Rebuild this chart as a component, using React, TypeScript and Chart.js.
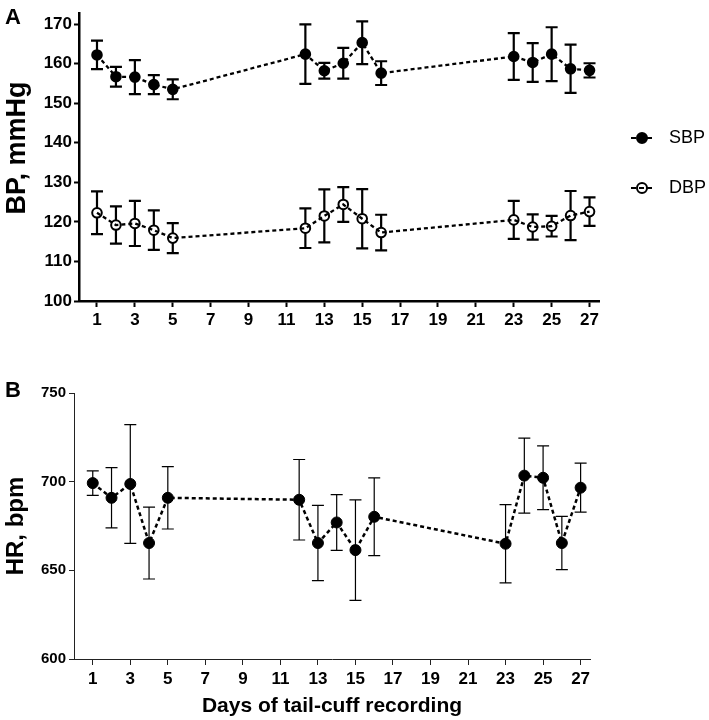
import React, { useEffect, useRef } from "react";
import { Chart, registerables } from "chart.js";

Chart.register(...registerables);

// ---------- data ----------
const days = [1, 2, 3, 4, 5, 12, 13, 14, 15, 16, 23, 24, 25, 26, 27];
const sbpMean = [162.2, 156.7, 156.6, 154.7, 153.5, 162.4, 158.2, 160.1, 165.3, 157.6, 161.8, 160.3, 162.4, 158.7, 158.3];
const sbpErr = [3.6, 2.5, 4.3, 2.4, 2.5, 7.5, 2.0, 3.9, 5.4, 3.0, 5.9, 4.9, 6.8, 6.1, 1.8];
const dbpMean = [122.3, 119.2, 119.6, 117.9, 115.9, 118.4, 121.5, 124.4, 120.8, 117.3, 120.5, 118.7, 118.9, 121.6, 122.6];
const dbpErr = [5.4, 4.7, 5.7, 5.0, 3.8, 5.0, 6.7, 4.4, 7.5, 4.5, 4.8, 3.2, 2.6, 6.2, 3.6];
const hrMean = [699.2, 690.9, 698.7, 665.4, 690.9, 689.8, 665.4, 677.0, 661.4, 680.2, 665.0, 703.4, 702.2, 665.4, 696.6];
const hrErr = [6.9, 17, 33.5, 20.3, 17.6, 22.7, 21.2, 15.7, 28.3, 21.9, 22.1, 21.1, 18, 15, 13.8];
const xTicks = [1, 3, 5, 7, 9, 11, 13, 15, 17, 19, 21, 23, 25, 27];
const bpTicks = [100, 110, 120, 130, 140, 150, 160, 170];
const hrTicks = [600, 650, 700, 750];
const bpTitle = "BP, mmHg";
const hrTitle = "HR, bpm";
const xTitle = "Days of tail-cuff recording";

const FONT = '"Liberation Sans", Arial, Helvetica, sans-serif';
Chart.defaults.font.family = FONT;

const toPoints = (ys: number[]) => days.map((d, i) => ({ x: d, y: ys[i] }));

const errorBarPlugin = {
  id: "errorBars",
  beforeDatasetsDraw(chart: any) {
    const ctx = chart.ctx;
    const xs = chart.scales.x;
    const ys = chart.scales.y;
    chart.data.datasets.forEach((ds: any) => {
      if (!ds.errors) return;
      ctx.save();
      ctx.strokeStyle = "#000";
      ctx.lineWidth = ds.errorWidth;
      const cap = ds.capHalf;
      ds.data.forEach((p: any, i: number) => {
        const x = xs.getPixelForValue(p.x);
        const y1 = ys.getPixelForValue(p.y + ds.errors[i]);
        const y2 = ys.getPixelForValue(p.y - ds.errors[i]);
        ctx.beginPath();
        ctx.moveTo(x, y1);
        ctx.lineTo(x, y2);
        ctx.moveTo(x - cap, y1);
        ctx.lineTo(x + cap, y1);
        ctx.moveTo(x - cap, y2);
        ctx.lineTo(x + cap, y2);
        ctx.stroke();
      });
      ctx.restore();
    });
  },
};

const legendPlugin = {
  id: "bpLegend",
  afterDraw(chart: any) {
    const ctx = chart.ctx;
    const items = chart.data.datasets.filter((d: any) => d.inLegend);
    items.forEach((ds: any, i: number) => {
      const y = 138 + i * 50;
      const cx = 642;
      ctx.save();
      ctx.beginPath();
      ctx.arc(cx, y, 5, 0, Math.PI * 2);
      ctx.fillStyle = ds.pointBackgroundColor;
      ctx.fill();
      ctx.lineWidth = 2;
      ctx.strokeStyle = "#000";
      ctx.stroke();
      ctx.setLineDash([5, 3]);
      ctx.lineWidth = 2;
      ctx.beginPath();
      ctx.moveTo(631, y);
      ctx.lineTo(653, y);
      ctx.stroke();
      ctx.setLineDash([]);
      ctx.font = `18px ${FONT}`;
      ctx.textBaseline = "middle";
      ctx.textAlign = "left";
      ctx.fillStyle = "#000";
      ctx.fillText(ds.label, 669, y);
      ctx.restore();
    });
  },
};

// draws the rotated y-axis title of the BP panel
const bpTitlePlugin = {
  id: "bpTitle",
  afterDraw(chart: any) {
    const ctx = chart.ctx;
    ctx.save();
    ctx.translate(18, 148);
    ctx.rotate(-Math.PI / 2);
    ctx.font = `bold 27px ${FONT}`;
    ctx.textAlign = "center";
    ctx.textBaseline = "middle";
    ctx.fillStyle = "#000";
    ctx.fillText(bpTitle, 0, 0);
    ctx.restore();
  },
};

function BPChart() {
  const ref = useRef<HTMLCanvasElement | null>(null);
  useEffect(() => {
    if (!ref.current) return;
    const dash = [4, 3];
    const chart = new Chart(ref.current, {
      type: "line",
      data: {
        datasets: [
          {
            label: "SBP",
            data: toPoints(sbpMean),
            showLine: false,
            pointRadius: 4.8,
            pointBorderWidth: 2,
            pointBackgroundColor: "#000",
            pointBorderColor: "#000",
            errors: sbpErr,
            errorWidth: 2.2,
            capHalf: 6,
            inLegend: true,
            order: 2,
          } as any,
          {
            label: "SBP line",
            data: toPoints(sbpMean),
            pointRadius: 0,
            borderColor: "#000",
            borderWidth: 2.3,
            borderDash: dash,
            fill: false,
            order: 1,
          },
          {
            label: "DBP",
            data: toPoints(dbpMean),
            showLine: false,
            pointRadius: 4.8,
            pointBorderWidth: 2,
            pointBackgroundColor: "#fff",
            pointBorderColor: "#000",
            errors: dbpErr,
            errorWidth: 2.2,
            capHalf: 6,
            inLegend: true,
            order: 2,
          } as any,
          {
            label: "DBP line",
            data: toPoints(dbpMean),
            pointRadius: 0,
            borderColor: "#000",
            borderWidth: 2.3,
            borderDash: dash,
            fill: false,
            order: 1,
          },
        ],
      },
      options: {
        responsive: false,
        animation: false,
        devicePixelRatio: 1,
        events: [],
        layout: { padding: { top: 13, right: 110, bottom: 0, left: 0 } },
        plugins: { legend: { display: false }, tooltip: { enabled: false } },
        scales: {
          x: {
            type: "linear",
            min: 0.05,
            max: 27.5,
            afterBuildTicks: (s: any) => {
              s.ticks = xTicks.map((v) => ({ value: v }));
            },
            afterFit: (s: any) => {
              s.height = 59;
            },
            grid: { drawOnChartArea: false, drawTicks: true, tickLength: 6, tickWidth: 2, tickColor: "#000" },
            border: { display: true, color: "#000", width: 2.5 },
            ticks: { font: { size: 17, weight: "bold" }, color: "#000", padding: 3, maxRotation: 0, autoSkip: false },
          },
          y: {
            type: "linear",
            min: 100,
            max: 172.8,
            afterBuildTicks: (s: any) => {
              s.ticks = bpTicks.map((v) => ({ value: v }));
            },
            afterFit: (s: any) => {
              s.width = 79;
            },
            grid: { drawOnChartArea: false, drawTicks: true, tickLength: 5, tickWidth: 2, tickColor: "#000" },
            border: { display: true, color: "#000", width: 2.5 },
            ticks: { font: { size: 17, weight: "bold" }, color: "#000", padding: 2, autoSkip: false },
            title: { display: false, text: bpTitle },
          },
        },
      } as any,
      plugins: [errorBarPlugin, legendPlugin, bpTitlePlugin],
    });
    return () => chart.destroy();
  }, []);
  return <canvas ref={ref} width={709} height={360} style={{ display: "block" }} />;
}

function HRChart() {
  const ref = useRef<HTMLCanvasElement | null>(null);
  useEffect(() => {
    if (!ref.current) return;
    const chart = new Chart(ref.current, {
      type: "line",
      data: {
        datasets: [
          {
            label: "HR",
            data: toPoints(hrMean),
            showLine: false,
            pointRadius: 5.5,
            pointBorderWidth: 1,
            pointBackgroundColor: "#000",
            pointBorderColor: "#000",
            errors: hrErr,
            errorWidth: 1.2,
            capHalf: 6,
            order: 2,
          } as any,
          {
            label: "HR line",
            data: toPoints(hrMean),
            pointRadius: 0,
            borderColor: "#000",
            borderWidth: 2.5,
            borderDash: [4, 3],
            fill: false,
            order: 1,
          },
        ],
      },
      options: {
        responsive: false,
        animation: false,
        devicePixelRatio: 1,
        events: [],
        layout: { padding: { top: 33, right: 119, bottom: 0, left: 0 } },
        plugins: { legend: { display: false }, tooltip: { enabled: false } },
        scales: {
          x: {
            type: "linear",
            min: 0,
            max: 27.5,
            afterBuildTicks: (s: any) => {
              s.ticks = xTicks.map((v) => ({ value: v }));
            },
            afterFit: (s: any) => {
              s.height = 61;
            },
            grid: { drawOnChartArea: false, drawTicks: true, tickLength: 6, tickWidth: 1, tickColor: "#222" },
            border: { display: true, color: "#222", width: 1 },
            ticks: { font: { size: 17, weight: "bold" }, color: "#000", padding: 4, maxRotation: 0, autoSkip: false },
            title: {
              display: true,
              text: xTitle,
              color: "#000",
              font: { size: 21, weight: "bold" },
              padding: { top: 0, bottom: 1 },
            },
          },
          y: {
            type: "linear",
            min: 600,
            max: 750,
            afterBuildTicks: (s: any) => {
              s.ticks = hrTicks.map((v) => ({ value: v }));
            },
            afterFit: (s: any) => {
              s.width = 74;
            },
            grid: { drawOnChartArea: false, drawTicks: true, tickLength: 5, tickWidth: 1, tickColor: "#222" },
            border: { display: true, color: "#222", width: 1 },
            ticks: { font: { size: 15, weight: "bold" }, color: "#000", padding: 3, autoSkip: false },
            title: {
              display: true,
              text: hrTitle,
              color: "#000",
              font: { size: 24, weight: "bold" },
              padding: { top: 2, bottom: 0 },
            },
          },
        },
      } as any,
      plugins: [errorBarPlugin],
    });
    return () => chart.destroy();
  }, []);
  return <canvas ref={ref} width={709} height={360} style={{ display: "block" }} />;
}

const panelLabel: React.CSSProperties = {
  position: "absolute",
  left: 5,
  fontFamily: FONT,
  fontWeight: "bold",
  fontSize: 22,
  lineHeight: "22px",
  color: "#000",
};

export default function App() {
  return (
    <div style={{ position: "absolute", left: 0, top: 0, width: 709, height: 720, background: "#fff" }}>
      <div style={{ position: "absolute", left: 0, top: 0 }}>
        <BPChart />
      </div>
      <div style={{ position: "absolute", left: 0, top: 360 }}>
        <HRChart />
      </div>
      <div style={{ ...panelLabel, top: 6 }}>A</div>
      <div style={{ ...panelLabel, top: 379 }}>B</div>
    </div>
  );
}
